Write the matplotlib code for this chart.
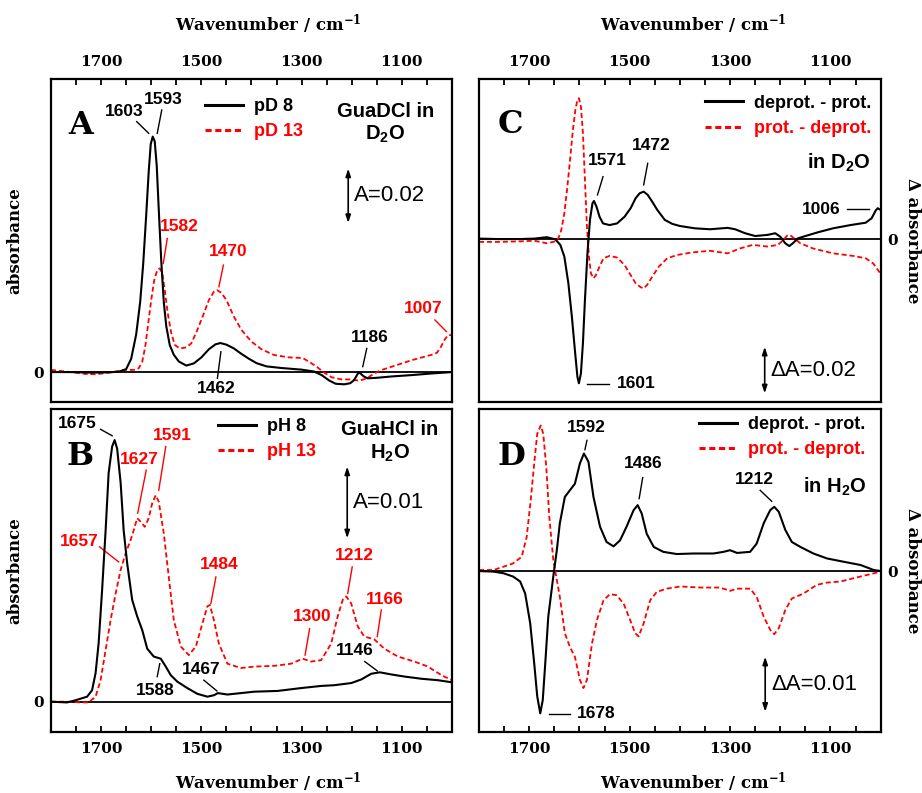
import numpy as np
import matplotlib
matplotlib.use("Agg")
import matplotlib.pyplot as plt

plt.rcParams["font.family"] = "DejaVu Serif"
plt.rcParams["font.weight"] = "bold"
plt.rcParams["axes.labelweight"] = "bold"
plt.rcParams["mathtext.default"] = "regular"

# ---------------- A: GuaDCl in D2O ----------------
wn_a8 = [1800, 1760, 1720, 1690, 1665, 1650, 1640, 1630, 1622, 1616, 1610, 1605, 1601, 1597, 1593,
         1589, 1585, 1580, 1575, 1570, 1563, 1555, 1545, 1530, 1515, 1500, 1485, 1472, 1462, 1450,
         1435, 1420, 1405, 1390, 1370, 1340, 1300, 1275, 1260, 1245, 1232, 1215, 1203, 1195, 1189,
         1186, 1182, 1176, 1168, 1150, 1120, 1080, 1040, 1000]
abs_a8 = [0.0001, 0.0001, -0.0001, 0.0, 0.0002, 0.0012, 0.0050, 0.0140, 0.0260, 0.0400, 0.0580, 0.0740, 0.0840, 0.0868, 0.0850,
          0.0760, 0.0600, 0.0410, 0.0260, 0.0170, 0.0100, 0.0065, 0.0040, 0.0025, 0.0033, 0.0055, 0.0085, 0.0103, 0.0108, 0.0102,
          0.0088, 0.0068, 0.0050, 0.0034, 0.0022, 0.0016, 0.0010, 0.0003, -0.0010, -0.0030, -0.0042, -0.0044, -0.0040, -0.0028, -0.0008,
          0.0, -0.0005, -0.0015, -0.0022, -0.0020, -0.0015, -0.0010, -0.0004, 0.0001]

wn_a13 = [1800, 1760, 1730, 1710, 1680, 1655, 1635, 1625, 1618, 1612, 1606, 1600, 1594, 1588, 1583,
          1578, 1573, 1567, 1560, 1553, 1543, 1530, 1520, 1508, 1495, 1485, 1475, 1469, 1460, 1450,
          1435, 1420, 1400, 1380, 1355, 1325, 1298, 1285, 1270, 1255, 1240, 1220, 1200, 1185, 1170,
          1155, 1140, 1120, 1100, 1080, 1060, 1040, 1030, 1022, 1015, 1008, 1000]
abs_a13 = [0.0009, 0.0001, -0.0006, -0.0007, 0.0, 0.0009, 0.0009, 0.0015, 0.0039, 0.0094, 0.0180, 0.0266, 0.0340, 0.0377, 0.0383,
           0.0364, 0.0303, 0.0217, 0.0144, 0.0101, 0.0088, 0.0092, 0.0107, 0.0156, 0.0217, 0.0266, 0.0297, 0.0303, 0.0293, 0.0266,
           0.0205, 0.0156, 0.0113, 0.0085, 0.0064, 0.0055, 0.0053, 0.0039, 0.0021, -0.0001, -0.0018, -0.0026, -0.0026, -0.0031, -0.0022,
           -0.0004, 0.0009, 0.0021, 0.0033, 0.0045, 0.0055, 0.0065, 0.0072, 0.0094, 0.0119, 0.0137, 0.0137]

# ---------------- B: GuaHCl in H2O ----------------
wn_b8 = [1800, 1768, 1751, 1728, 1718, 1711, 1705, 1698, 1691, 1685, 1678, 1673, 1668, 1661, 1655,
         1648, 1638, 1628, 1618, 1608, 1595, 1581, 1571, 1561, 1548, 1528, 1508, 1488, 1475, 1467,
         1448, 1421, 1394, 1348, 1301, 1261, 1235, 1201, 1181, 1161, 1144, 1121, 1094, 1061, 1028, 1000]
abs_b8 = [0.0, -0.0001, 0.0002, 0.0007, 0.0016, 0.0040, 0.0081, 0.0156, 0.0239, 0.0319, 0.0356, 0.0365, 0.0353, 0.0305, 0.0239,
          0.0193, 0.0142, 0.0119, 0.0100, 0.0074, 0.0063, 0.0060, 0.0049, 0.0037, 0.0028, 0.0019, 0.0011, 0.0007, 0.0009, 0.0012,
          0.0010, 0.0012, 0.0014, 0.0015, 0.0019, 0.0022, 0.0023, 0.0026, 0.0031, 0.0039, 0.0041, 0.0038, 0.0035, 0.0032, 0.0030, 0.0027]

wn_b13 = [1800, 1768, 1741, 1725, 1711, 1701, 1691, 1681, 1671, 1661, 1651, 1641, 1635, 1628, 1621,
          1613, 1605, 1598, 1591, 1585, 1575, 1565, 1555, 1541, 1525, 1511, 1498, 1488, 1483, 1475,
          1465, 1448, 1421, 1394, 1355, 1321, 1298, 1281, 1261, 1241, 1228, 1218, 1211, 1201, 1188,
          1175, 1155, 1135, 1108, 1075, 1048, 1021, 1000]
abs_b13 = [0.0, 0.0, -0.0001, -0.0001, 0.0007, 0.0030, 0.0072, 0.0114, 0.0151, 0.0184, 0.0207, 0.0226, 0.0239, 0.0256, 0.0251,
           0.0244, 0.0256, 0.0277, 0.0288, 0.0279, 0.0235, 0.0174, 0.0114, 0.0077, 0.0065, 0.0077, 0.0109, 0.0133, 0.0135, 0.0114,
           0.0081, 0.0053, 0.0047, 0.0049, 0.0050, 0.0053, 0.0060, 0.0056, 0.0058, 0.0081, 0.0119, 0.0142, 0.0147, 0.0137, 0.0105,
           0.0091, 0.0087, 0.0074, 0.0063, 0.0056, 0.0049, 0.0037, 0.0030]

# ---------------- C: difference spectra in D2O ----------------
wn_c = [1800, 1760, 1720, 1690, 1665, 1648, 1638, 1630, 1622, 1615, 1609, 1604, 1601, 1597, 1593,
        1589, 1584, 1579, 1574, 1571, 1566, 1560, 1553, 1540, 1525, 1510, 1498, 1488, 1480, 1472,
        1464, 1455, 1445, 1430, 1415, 1400, 1370, 1340, 1305, 1290, 1270, 1250, 1225, 1210, 1200,
        1190, 1182, 1175, 1165, 1150, 1125, 1095, 1060, 1030, 1018, 1010, 1006, 1002, 1000]
dabs_c = [0.0003, 0.0001, 0.0001, 0.0003, 0.0009, 0.0, -0.0024, -0.0074, -0.0188, -0.0331, -0.0474, -0.0588, -0.0616, -0.0574, -0.0445,
          -0.0260, -0.0060, 0.0083, 0.0154, 0.0164, 0.0140, 0.0097, 0.0068, 0.0061, 0.0068, 0.0097, 0.0133, 0.0176, 0.0197, 0.0204,
          0.0190, 0.0161, 0.0126, 0.0083, 0.0066, 0.0057, 0.0047, 0.0043, 0.0049, 0.0043, 0.0026, 0.0014, 0.0019, 0.0026, 0.0011,
          -0.0017, -0.0029, -0.0017, 0.0004, 0.0014, 0.0030, 0.0047, 0.0061, 0.0071, 0.0090, 0.0123, 0.0133, 0.0128, 0.0126]

wn_c_rev = [1800, 1760, 1720, 1690, 1665, 1650, 1642, 1636, 1630, 1624, 1618, 1613, 1608, 1604, 1601,
            1597, 1593, 1589, 1585, 1581, 1577, 1572, 1567, 1560, 1552, 1540, 1525, 1510, 1498, 1488,
            1478, 1472, 1465, 1455, 1442, 1425, 1405, 1375, 1340, 1305, 1280, 1255, 1225, 1205, 1195,
            1185, 1178, 1170, 1160, 1135, 1095, 1055, 1030, 1015, 1008, 1000]
dabs_c_rev = [-0.0011, -0.0011, -0.0009, -0.0006, -0.0017, -0.0010, 0.0004, 0.0040, 0.0111, 0.0225, 0.0354, 0.0468, 0.0554, 0.0596, 0.0604,
              0.0568, 0.0454, 0.0254, 0.0054, -0.0074, -0.0146, -0.0167, -0.0153, -0.0117, -0.0081, -0.0071, -0.0078, -0.0110, -0.0153, -0.0188,
              -0.0205, -0.0210, -0.0195, -0.0160, -0.0117, -0.0081, -0.0067, -0.0056, -0.0049, -0.0060, -0.0039, -0.0024, -0.0031, -0.0024, -0.0006,
              0.0019, 0.0014, 0.0, -0.0017, -0.0039, -0.0060, -0.0071, -0.0081, -0.0103, -0.0124, -0.0148]

# ---------------- D: difference spectra in H2O ----------------
wn_d = [1800, 1771, 1751, 1732, 1718, 1708, 1698, 1690, 1684, 1678, 1673, 1668, 1662, 1652, 1645,
        1639, 1629, 1619, 1609, 1599, 1591, 1582, 1572, 1559, 1546, 1532, 1519, 1506, 1492, 1484,
        1476, 1466, 1452, 1433, 1406, 1373, 1333, 1313, 1300, 1286, 1260, 1247, 1233, 1220, 1212,
        1203, 1190, 1177, 1160, 1134, 1107, 1074, 1040, 1014, 1000]
dabs_d = [0.0, -0.0001, -0.0004, -0.0010, -0.0019, -0.0041, -0.0095, -0.0168, -0.0228, -0.0259, -0.0235, -0.0168, -0.0083, -0.0010, 0.0038,
          0.0087, 0.0135, 0.0147, 0.0159, 0.0196, 0.0214, 0.0199, 0.0135, 0.0081, 0.0053, 0.0045, 0.0056, 0.0081, 0.0111, 0.0120,
          0.0105, 0.0068, 0.0044, 0.0035, 0.0031, 0.0032, 0.0032, 0.0035, 0.0038, 0.0033, 0.0035, 0.0050, 0.0087, 0.0111, 0.0117,
          0.0108, 0.0075, 0.0053, 0.0044, 0.0032, 0.0023, 0.0017, 0.0011, 0.0002, 0.0]

wn_d_rev = [1800, 1771, 1751, 1732, 1715, 1705, 1697, 1690, 1684, 1677, 1672, 1666, 1660, 1652, 1645,
            1639, 1629, 1619, 1609, 1599, 1592, 1585, 1575, 1565, 1552, 1539, 1526, 1512, 1499, 1489,
            1482, 1472, 1459, 1446, 1426, 1399, 1359, 1320, 1300, 1286, 1260, 1247, 1233, 1220, 1212,
            1203, 1190, 1177, 1154, 1127, 1107, 1080, 1054, 1027, 1000]
dabs_d_rev = [0.0002, 0.0002, 0.0008, 0.0014, 0.0026, 0.0062, 0.0129, 0.0196, 0.0250, 0.0265, 0.0250, 0.0190, 0.0099, 0.0020, -0.0016,
              -0.0047, -0.0113, -0.0138, -0.0156, -0.0198, -0.0213, -0.0198, -0.0132, -0.0089, -0.0053, -0.0042, -0.0044, -0.0059, -0.0089, -0.0113,
              -0.0119, -0.0095, -0.0053, -0.0038, -0.0032, -0.0028, -0.0030, -0.0030, -0.0036, -0.0032, -0.0032, -0.0047, -0.0083, -0.0107, -0.0115,
              -0.0104, -0.0071, -0.0050, -0.0041, -0.0025, -0.0021, -0.0019, -0.0013, -0.0007, -0.0001]

major_ticks = [1700, 1500, 1300, 1100]

# peak labels: text, colour key, text position, leader line start -> end
peaks_a = [("1603", "k", 1653, 0.0962, 1629, 0.0923, 1605, 0.0880),
           ("1593", "k", 1576, 0.1006, 1579, 0.0966, 1588, 0.0880),
           ("1582", "r", 1543, 0.0536, 1568, 0.0493, 1576, 0.0401),
           ("1470", "r", 1446, 0.0444, 1456, 0.0395, 1465, 0.0315),
           ("1462", "k", 1471, -0.0061, 1461, 0.0076, 1468, -0.0022),
           ("1186", "k", 1164, 0.0128, 1170, 0.0088, 1178, 0.0021),
           ("1007", "r", 1058, 0.0236, 1034, 0.0193, 1011, 0.0150)]
peaks_b = [("1675", "k", 1748, 0.0388, 1701, 0.0380, 1678, 0.0371),
           ("1627", "r", 1623, 0.0338, 1610, 0.0323, 1627, 0.0263),
           ("1591", "r", 1558, 0.0372, 1571, 0.0356, 1585, 0.0295),
           ("1657", "r", 1743, 0.0224, 1703, 0.0216, 1665, 0.0195),
           ("1588", "k", 1591, 0.0016, 1588, 0.0035, 1583, 0.0053),
           ("1467", "k", 1500, 0.0045, 1495, 0.0030, 1469, 0.0015),
           ("1484", "r", 1464, 0.0192, 1471, 0.0174, 1481, 0.0137),
           ("1300", "r", 1279, 0.0119, 1284, 0.0102, 1293, 0.0065),
           ("1212", "r", 1194, 0.0204, 1199, 0.0188, 1208, 0.0151),
           ("1166", "r", 1134, 0.0143, 1141, 0.0128, 1149, 0.0091),
           ("1146", "k", 1193, 0.0071, 1174, 0.0056, 1149, 0.0043)]
peaks_c = [("1571", "k", 1545, 0.0337, 1553, 0.0268, 1564, 0.0190),
           ("1472", "k", 1456, 0.0401, 1464, 0.0325, 1472, 0.0233),
           ("1006", "k", 1118, 0.0126, 1068, 0.0128, 1024, 0.0128),
           ("1601", "k", 1486, -0.0619, 1585, -0.0619, 1542, -0.0619)]
peaks_d = [("1592", "k", 1587, 0.0261, 1585, 0.0238, 1589, 0.0221),
           ("1486", "k", 1472, 0.0195, 1474, 0.0170, 1481, 0.0132),
           ("1212", "k", 1251, 0.0167, 1240, 0.0147, 1217, 0.0127),
           ("1678", "k", 1567, -0.0260, 1660, -0.0260, 1619, -0.0260)]

RED = "#ff0000"
COLORS = {"k": "black", "r": RED}
SANS = ["Liberation Sans", "DejaVu Sans"]
DASH = (2.8, 1.6)

fig = plt.figure(figsize=(9.22, 7.93), dpi=100)
axA = fig.add_axes([0.0553, 0.4931, 0.4349, 0.4073])
axB = fig.add_axes([0.0553, 0.0769, 0.4349, 0.4073])
axC = fig.add_axes([0.5195, 0.4931, 0.4357, 0.4073])
axD = fig.add_axes([0.5195, 0.0769, 0.4357, 0.4073])


def setup(ax, top, right, ylim, ylabel):
    ax.set_xlim(1800, 1000)
    ax.set_ylim(*ylim)
    ax.set_xticks(major_ticks)
    ax.set_xticks(np.arange(1000, 1801, 50), minor=True)
    ax.set_yticks([0])
    ax.axhline(0, color="black", lw=1.3, zorder=1)
    for s in ax.spines.values():
        s.set_linewidth(1.6)
    ax.tick_params(axis="x", which="both", direction="in", length=4.5, width=1.3,
                   top=top, bottom=not top, labeltop=top, labelbottom=not top,
                   labelsize=11, pad=7)
    ax.tick_params(axis="y", length=0, left=False, right=False,
                   labelleft=not right, labelright=right, labelsize=11, pad=5)
    xl = 0.533 if right else 0.543
    if top:
        ax.xaxis.set_label_position("top")
        ax.set_xlabel("Wavenumber / cm$^{-1}$", fontsize=12, labelpad=18, x=xl)
    else:
        ax.set_xlabel("Wavenumber / cm$^{-1}$", fontsize=12, labelpad=10, x=xl)
    if right:
        ax.yaxis.set_label_position("right")
        ax.set_ylabel(ylabel, fontsize=12, rotation=270, va="bottom", labelpad=4)
    else:
        ax.set_ylabel(ylabel, fontsize=12, labelpad=7)


def peak_labels(ax, peaks):
    for txt, c, tx, ty, x0, y0, x1, y1 in peaks:
        ax.text(tx, ty, txt, color=COLORS[c], family=SANS, weight="bold",
                fontsize=12.5, ha="center", va="center")
        ax.plot([x0, x1], [y0, y1], color=COLORS[c], lw=1.0)


def scale_bar(ax, x, y0, y1, label):
    ax.annotate("", xy=(x, y1), xytext=(x, y0),
                arrowprops=dict(arrowstyle="<|-|>,head_width=0.15,head_length=0.45",
                                lw=1.2, color="black", shrinkA=0, shrinkB=0))
    ax.text(x - 12, (y0 + y1) / 2, label, family=SANS, weight="normal",
            fontsize=16, ha="left", va="center")


def panel_letter(ax, letter, x, y):
    ax.text(x, y, letter, transform=ax.transAxes, fontsize=23, weight="bold",
            ha="center", va="center")


def legend(ax, lines, labels, anchor):
    leg = ax.legend(lines, labels, loc="upper left", bbox_to_anchor=anchor, frameon=False,
                    borderpad=0, borderaxespad=0, handlelength=2.1, handletextpad=0.6,
                    labelspacing=0.45, labelcolor="linecolor",
                    prop=dict(family=SANS, weight="bold", size=13))
    handles = leg.get_lines()
    handles[0].set_linewidth(2.2)
    handles[1].set_linewidth(2.2)
    handles[1].set_dashes((2.0, 1.2))
    return leg


# ---- A ----
setup(axA, True, False, (-0.0109, 0.108), "absorbance")
la, = axA.plot(wn_a8, abs_a8, color="black", lw=1.5, zorder=3)
lb, = axA.plot(wn_a13, abs_a13, color=RED, lw=1.3, dashes=DASH, zorder=2)
legend(axA, [la, lb], ["pD 8", "pD 13"], (0.384, 0.94))
peak_labels(axA, peaks_a)
scale_bar(axA, 1207, 0.055, 0.075, "A=0.02")
panel_letter(axA, "A", 0.073, 0.857)
axA.text(0.834, 0.862, "GuaDCl in\nD$_2$O", transform=axA.transAxes, family=SANS,
         weight="bold", fontsize=14.5, ha="center", va="center", multialignment="center")

# ---- B ----
setup(axB, False, False, (-0.00423, 0.04083), "absorbance")
la, = axB.plot(wn_b8, abs_b8, color="black", lw=1.5, zorder=3)
lb, = axB.plot(wn_b13, abs_b13, color=RED, lw=1.3, dashes=DASH, zorder=2)
legend(axB, [la, lb], ["pH 8", "pH 13"], (0.417, 0.972))
peak_labels(axB, peaks_b)
scale_bar(axB, 1209, 0.0228, 0.0328, "A=0.01")
panel_letter(axB, "B", 0.073, 0.852)
axB.text(0.8455, 0.898, "GuaHCl in\nH$_2$O", transform=axB.transAxes, family=SANS,
         weight="bold", fontsize=14.5, ha="center", va="center", multialignment="center")

# ---- C ----
setup(axC, True, True, (-0.0696, 0.0686), "Δ absorbance")
la, = axC.plot(wn_c, dabs_c, color="black", lw=1.5, zorder=3)
lb, = axC.plot(wn_c_rev, dabs_c_rev, color=RED, lw=1.3, dashes=DASH, zorder=2)
legend(axC, [la, lb], ["deprot. - prot.", "prot. - deprot."], (0.5626, 0.951))
peak_labels(axC, peaks_c)
scale_bar(axC, 1231, -0.0659, -0.0460, "ΔA=0.02")
panel_letter(axC, "C", 0.077, 0.858)
axC.text(0.975, 0.741, "in D$_2$O", transform=axC.transAxes, family=SANS,
         weight="bold", fontsize=14.5, ha="right", va="center")

# ---- D ----
setup(axD, False, True, (-0.0293, 0.0295), "Δ absorbance")
la, = axD.plot(wn_d, dabs_d, color="black", lw=1.5, zorder=3)
lb, = axD.plot(wn_d_rev, dabs_d_rev, color=RED, lw=1.3, dashes=DASH, zorder=2)
legend(axD, [la, lb], ["deprot. - prot.", "prot. - deprot."], (0.5477, 0.978))
peak_labels(axD, peaks_d)
scale_bar(axD, 1230, -0.0256, -0.0156, "ΔA=0.01")
panel_letter(axD, "D", 0.081, 0.852)
axD.text(0.965, 0.7576, "in H$_2$O", transform=axD.transAxes, family=SANS,
         weight="bold", fontsize=14.5, ha="right", va="center")

fig.savefig("out.png", dpi=100)
